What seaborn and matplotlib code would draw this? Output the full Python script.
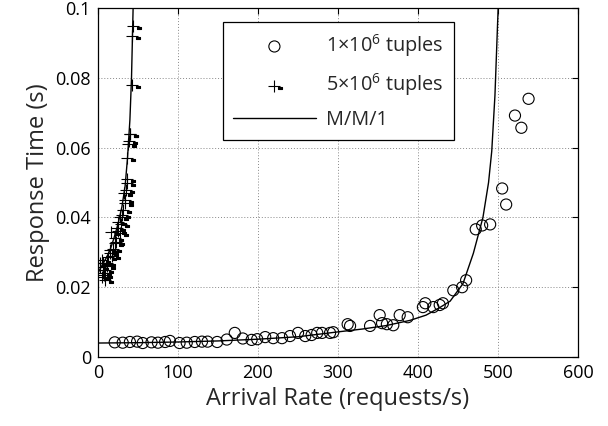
import numpy as np
import pandas as pd
import matplotlib
matplotlib.use("Agg")
import matplotlib.pyplot as plt
from matplotlib.path import Path
import seaborn as sns

# 1x10^6 tuples: measured response time vs arrival rate
rate_1m = [21, 31, 40, 49, 56, 67, 75, 84, 90, 102, 111, 121, 130, 137, 149, 161,
           171, 181, 192, 199, 209, 219, 230, 240, 250, 259, 267, 274, 280, 290,
           294, 312, 315, 340, 352, 355, 361, 369, 377, 387, 406, 409, 419, 427,
           431, 444, 455, 460, 472, 480, 490, 505, 510, 521, 529, 538]
resp_1m = [0.0042, 0.0041, 0.0043, 0.0044, 0.0040, 0.0042, 0.0041, 0.0043, 0.0046,
           0.0040, 0.0041, 0.0043, 0.0044, 0.0044, 0.0043, 0.0050, 0.0069, 0.0053,
           0.0049, 0.0051, 0.0057, 0.0054, 0.0054, 0.0060, 0.0069, 0.0060, 0.0063,
           0.0069, 0.0069, 0.0069, 0.0071, 0.0094, 0.0089, 0.0089, 0.0120, 0.0097,
           0.0094, 0.0091, 0.0120, 0.0114, 0.0143, 0.0154, 0.0143, 0.0149, 0.0154,
           0.0191, 0.0200, 0.0220, 0.0366, 0.0377, 0.0380, 0.0483, 0.0437, 0.0692,
           0.0657, 0.0740]

# 5x10^6 tuples
rate_5m = [2.5, 3, 5, 5, 6, 6, 9, 9, 11, 13, 15, 15, 17, 19, 21, 21, 24, 25, 25,
           27, 27, 30, 31, 34, 34, 35, 36, 36, 36, 38, 39, 40, 42, 44, 42, 40,
           8, 12, 18, 23, 29, 33]
resp_5m = [0.0257, 0.0270, 0.0230, 0.0277, 0.0240, 0.0270, 0.0220, 0.0249, 0.0269,
           0.0286, 0.0297, 0.0306, 0.0357, 0.0310, 0.0326, 0.0340, 0.0370, 0.0360,
           0.0386, 0.0354, 0.0400, 0.0406, 0.0420, 0.0440, 0.0450, 0.0480, 0.0500,
           0.0510, 0.0570, 0.0610, 0.0620, 0.0640, 0.0780, 0.0950, 0.0920, 0.0640,
           0.0235, 0.0260, 0.0290, 0.0330, 0.0380, 0.0470]

# M/M/1 model curves
mm1_rate_1m = [0, 50, 100, 150, 200, 250, 300, 330, 360, 390, 410, 428, 440, 456,
               469, 481, 488, 492, 496, 500]
mm1_resp_1m = [0.0040, 0.0041, 0.0043, 0.0046, 0.0051, 0.0058, 0.0072, 0.0080,
               0.0090, 0.0105, 0.0120, 0.0143, 0.0160, 0.0210, 0.0297, 0.0400,
               0.0500, 0.0590, 0.0750, 0.1000]
mm1_rate_5m = [0, 5, 10, 15, 20, 25, 30, 34, 37, 40, 42, 44]
mm1_resp_5m = [0.0240, 0.0262, 0.0282, 0.0305, 0.0340, 0.0380, 0.0430, 0.0490,
               0.0570, 0.0680, 0.0800, 0.1000]

x_ticks = [0, 100, 200, 300, 400, 500, 600]
y_ticks = [0, 0.02, 0.04, 0.06, 0.08, 0.1]
y_tick_labels = ["0", "0.02", "0.04", "0.06", "0.08", "0.1"]

sns.set_theme(style="white")
plt.rcParams["font.family"] = ["Open Sans", "DejaVu Sans"]
plt.rcParams["mathtext.fontset"] = "custom"
plt.rcParams["mathtext.rm"] = "Open Sans"
plt.rcParams["mathtext.it"] = "Open Sans:italic"

# plus marker with the small dash to the lower right
plus_dash = Path(
    [(-1, 0), (1, 0), (0, -1), (0, 1),
     (0.6, -0.45), (1.3, -0.45), (1.3, -0.22), (0.6, -0.22), (0.6, -0.45)],
    [Path.MOVETO, Path.LINETO, Path.MOVETO, Path.LINETO,
     Path.MOVETO, Path.LINETO, Path.LINETO, Path.LINETO, Path.CLOSEPOLY])

fig = plt.figure(figsize=(6.08, 4.26), dpi=100)
ax = fig.add_axes([0.161, 0.162, 0.79, 0.819])

df_1m = pd.DataFrame({"rate": rate_1m, "resp": resp_1m})
df_5m = pd.DataFrame({"rate": rate_5m, "resp": resp_5m})

sns.scatterplot(data=df_1m, x="rate", y="resp", ax=ax, marker="o", s=64,
                facecolor="none", edgecolor="black", linewidth=0.8,
                label=r"$\mathregular{1{\times}10^6}$ tuples", zorder=3)
sns.scatterplot(data=df_5m, x="rate", y="resp", ax=ax, marker=plus_dash, s=120,
                facecolor="black", edgecolor="black", linewidth=0.8,
                label=r"$\mathregular{5{\times}10^6}$ tuples", zorder=3)
sns.lineplot(x=mm1_rate_1m, y=mm1_resp_1m, ax=ax, color="black", linewidth=1,
             sort=False, estimator=None, label="M/M/1", zorder=2)
sns.lineplot(x=mm1_rate_5m, y=mm1_resp_5m, ax=ax, color="black", linewidth=1,
             sort=False, estimator=None, zorder=2)

ax.set_xlim(0, 600)
ax.set_ylim(0, 0.1)
ax.set_xticks(x_ticks)
ax.set_yticks(y_ticks)
ax.set_yticklabels(y_tick_labels)
ax.set_xlabel("Arrival Rate (requests/s)", fontsize=17, labelpad=4)
ax.set_ylabel("Response Time (s)", fontsize=17, labelpad=4)
ax.tick_params(direction="in", length=4, width=0.8, labelsize=13, pad=5,
               top=True, right=True, colors="black")
ax.grid(True, color="#888888", linestyle=(0, (1, 2)), linewidth=0.7)
for sp in ax.spines.values():
    sp.set_color("black")
    sp.set_linewidth(0.9)

leg = ax.legend(loc="upper left", bbox_to_anchor=(0.26, 0.96), fontsize=14.3,
                frameon=True, fancybox=False, edgecolor="black", framealpha=1,
                handlelength=4.2, handletextpad=0.5, borderpad=0.5,
                labelspacing=0.62, borderaxespad=0)
leg.get_frame().set_linewidth(0.9)

fig.savefig("out.png", dpi=100)
